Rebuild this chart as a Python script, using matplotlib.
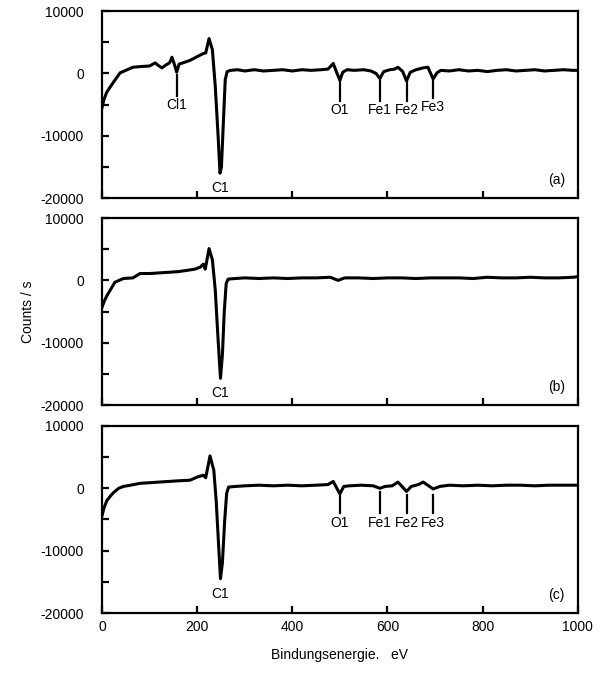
import numpy as np
import matplotlib
matplotlib.use('Agg')
import matplotlib.pyplot as plt
from matplotlib.ticker import MultipleLocator

plt.rcParams['font.family'] = ['Liberation Sans', 'DejaVu Sans']
plt.rcParams['font.size'] = 10
plt.rcParams['axes.unicode_minus'] = False

# Spektrum (a)
ea = [0, 4, 10, 17, 25, 38, 50, 65, 80, 100, 112, 118, 126, 135, 142, 147, 152, 157, 162, 170,
      185, 200, 213, 218, 225, 232, 238, 244, 248, 251, 255, 259, 263, 270, 285, 300, 320, 340, 360, 380,
      400, 420, 440, 460, 475, 486, 493, 500, 506, 515, 530, 550, 565, 576, 584, 592, 605, 615, 622, 632,
      640, 648, 660, 675, 685, 696, 704, 712, 730, 750, 770, 790, 810, 830, 850, 870, 890, 910, 930, 950,
      970, 990, 1000]
ca = [-5500, -4200, -3000, -2200, -1300, 100, 500, 1000, 1100, 1200, 1700, 1300, 900, 1400, 1700, 2600, 1500, 200, 1500, 1700,
      2100, 2700, 3200, 3300, 5600, 3800, -2000, -10000, -16000, -15000, -8000, -1000, 300, 500, 600, 400, 600, 400, 500, 600,
      400, 600, 500, 600, 700, 1600, 200, -1100, 200, 600, 500, 600, 400, 0, -800, 300, 600, 700, 1000, 300,
      -1200, 200, 600, 900, 1000, -900, 100, 500, 400, 600, 400, 500, 300, 500, 600, 400, 500, 600, 400, 500,
      600, 500, 500]

# Spektrum (b)
eb = [0, 5, 10, 17, 27, 45, 65, 80, 100, 120, 140, 160, 178, 195, 206, 213, 217, 225, 232, 238,
      244, 249, 253, 257, 261, 265, 280, 300, 330, 360, 390, 420, 450, 480, 496, 510, 540, 570, 600, 630,
      660, 690, 720, 750, 780, 810, 840, 870, 900, 930, 960, 990, 1000]
cb = [-4300, -3300, -2500, -1600, -300, 300, 400, 1100, 1100, 1200, 1300, 1400, 1600, 1800, 2100, 2600, 1800, 5100, 3300, -1500,
      -9500, -15700, -12000, -5000, -500, 200, 300, 400, 300, 400, 300, 400, 400, 500, 0, 400, 400, 300, 400, 400,
      300, 400, 400, 400, 300, 500, 400, 400, 500, 400, 400, 500, 600]

# Spektrum (c)
ec = [0, 4, 10, 17, 24, 35, 45, 60, 80, 100, 120, 140, 160, 185, 200, 213, 218, 227, 235, 240,
      245, 249, 253, 258, 262, 266, 280, 300, 330, 360, 390, 420, 450, 475, 486, 500, 508, 520, 545, 570,
      584, 595, 610, 622, 640, 650, 665, 675, 696, 710, 730, 760, 790, 820, 850, 880, 910, 940, 970, 1000]
cc = [-4400, -3200, -2000, -1300, -700, 0, 300, 500, 800, 900, 1000, 1100, 1200, 1300, 1800, 2100, 1700, 5200, 2900, -2000,
      -9000, -14500, -12000, -5000, -800, 200, 300, 400, 500, 400, 500, 400, 500, 600, 1100, -900, 300, 400, 500, 400,
      0, 300, 400, 1000, -500, 300, 600, 1000, -100, 300, 500, 400, 500, 400, 500, 500, 400, 500, 500, 500]

# Markierungen: (name, x, y_start, y_end)
marks_a = [('Cl1', 157, -300, -3600), ('O1', 500, -1300, -4400), ('Fe1', 584, -900, -4400),
           ('Fe2', 640, -1300, -4400), ('Fe3', 696, -1200, -3900)]
marks_c = [('O1', 500, -1300, -4000), ('Fe1', 584, -600, -4000),
           ('Fe2', 640, -1100, -4000), ('Fe3', 696, -1100, -4000)]

fig = plt.figure(figsize=(6.0, 6.74), dpi=100)
left, width, height = 0.17, 0.793, 0.2775
bottoms = [0.706, 0.399, 0.0905]
spectra = [(ea, ca), (eb, cb), (ec, cc)]
tags = ['(a)', '(b)', '(c)']
c1_y = [-18300, -18100, -16900]
marks = [marks_a, [], marks_c]

for i in range(3):
    ax = fig.add_axes([left, bottoms[i], width, height])
    e, c = spectra[i]
    ax.plot(e, c, color='black', lw=2.2)
    ax.set_xlim(0, 1000)
    ax.set_ylim(-20000, 10000)
    ax.xaxis.set_major_locator(MultipleLocator(200))
    ax.yaxis.set_major_locator(MultipleLocator(10000))
    ax.yaxis.set_minor_locator(MultipleLocator(5000))
    ax.tick_params(which='both', direction='in', length=5, width=1.6, top=False, right=False)
    ax.tick_params(axis='y', pad=13)
    ax.tick_params(axis='x', pad=5)
    for s in ax.spines.values():
        s.set_linewidth(1.6)
    if i < 2:
        ax.set_xticklabels([])
    for name, x, y0, y1 in marks[i]:
        ax.plot([x, x], [y0, y1], color='black', lw=1.6)
        ax.text(x, y1 - 400, name, ha='center', va='top', fontsize=10)
    ax.text(249, c1_y[i], 'C1', ha='center', va='center', fontsize=10)
    ax.text(0.955, 0.095, tags[i], transform=ax.transAxes, ha='center', va='center', fontsize=10)
    if i == 1:
        ax.set_ylabel('Counts / s', labelpad=4)
    if i == 2:
        ax.set_xlabel('Bindungsenergie.   eV', labelpad=10)

fig.savefig('out.png', dpi=100)
